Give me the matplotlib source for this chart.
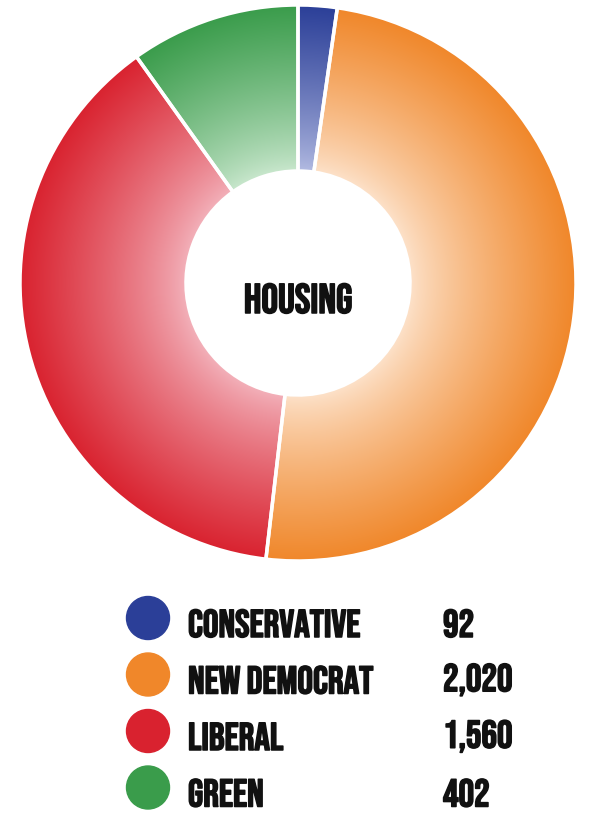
import numpy as np
import matplotlib
matplotlib.use("Agg")
import matplotlib.pyplot as plt
import matplotlib.patheffects as pe
from matplotlib.patches import Wedge, Circle
from matplotlib.colors import to_rgb

parties = ["CONSERVATIVE", "NEW DEMOCRAT", "LIBERAL", "GREEN"]
votes = [92, 2020, 1560, 402]
labels = ["92", "2,020", "1,560", "402"]
dark = ["#2b3f98", "#f0872a", "#d9222f", "#3a9c4b"]
light = ["#b5bde3", "#fde3cc", "#f3b3bc", "#cbe8cf"]
title = "HOUSING"

font = ["Bebas Neue", "Oswald", "DejaVu Sans"]
bold = [pe.withStroke(linewidth=1.1, foreground="#111111")]

W, H = 600, 817
fig = plt.figure(figsize=(W / 100, H / 100), dpi=100)
ax = fig.add_axes([0, 0, 1, 1])
ax.set_xlim(0, W)
ax.set_ylim(H, 0)
ax.axis("off")

cx, cy = 298, 283
r_out, r_in = 278, 112

# radial gradient field
yy, xx = np.mgrid[0:H, 0:W] + 0.5
rr = np.hypot(xx - cx, yy - cy)
t = np.clip((rr - r_in) / (r_out - r_in), 0, 1) ** 0.8

total = sum(votes)
start = 90.0
for v, c1, c0 in zip(votes, dark, light):
    span = v / total * 360
    end = start
    beg = start - span
    a, b = np.array(to_rgb(c0)), np.array(to_rgb(c1))
    img = a + (b - a) * t[..., None]
    # y axis inverted, so flip angle sign for the wedge in data coords
    w = Wedge((cx, cy), r_out, -end, -beg, width=r_out - r_in,
              facecolor="none", edgecolor="none")
    ax.add_patch(w)
    im = ax.imshow(img, extent=(0, W, H, 0), interpolation="bilinear", zorder=1)
    im.set_clip_path(w)
    edge = Wedge((cx, cy), r_out, -end, -beg, width=r_out - r_in,
                 facecolor="none", edgecolor="white", linewidth=2.5, zorder=3)
    ax.add_patch(edge)
    start = beg

ax.text(cx, 298, title, ha="center", va="center", fontsize=30,
        family=font, color="#111111", path_effects=bold)

y0, dy = 618, 56.5
for i, (p, lab, c) in enumerate(zip(parties, labels, dark)):
    y = y0 + i * dy
    ax.add_patch(Circle((148, y), 21.5, color=c, zorder=3))
    ax.text(188, y + 5, p, ha="left", va="center", fontsize=28,
            family=font, color="#111111", path_effects=bold)
    ax.text(443, y + 5, lab, ha="left", va="center", fontsize=28,
            family=font, color="#111111", path_effects=bold)

ax.set_aspect("auto")
fig.savefig("out.png", dpi=100, facecolor="white")
